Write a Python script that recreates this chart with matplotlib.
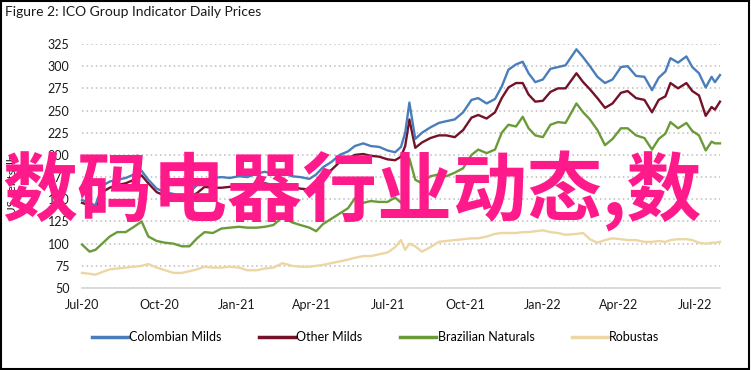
import matplotlib
matplotlib.use("Agg")
import matplotlib.pyplot as plt
import matplotlib.dates as mdates
import pandas as pd
from matplotlib.patches import Rectangle

# ---- data (US cents/lb) ----
dates = [
    "2020-07-01", "2020-07-10", "2020-07-17", "2020-07-25", "2020-08-03", "2020-08-12",
    "2020-08-22", "2020-09-01", "2020-09-10", "2020-09-18", "2020-09-28", "2020-10-08",
    "2020-10-18", "2020-10-28", "2020-11-06", "2020-11-15", "2020-11-24", "2020-12-04",
    "2020-12-14", "2020-12-24", "2021-01-04", "2021-01-14", "2021-01-25", "2021-02-04",
    "2021-02-14", "2021-02-25", "2021-03-08", "2021-03-18", "2021-03-29", "2021-04-06",
    "2021-04-14", "2021-04-24", "2021-05-04", "2021-05-14", "2021-05-22", "2021-06-01",
    "2021-06-10", "2021-06-20", "2021-06-30", "2021-07-09", "2021-07-16", "2021-07-21",
    "2021-07-26", "2021-08-02", "2021-08-10", "2021-08-20", "2021-08-30", "2021-09-08",
    "2021-09-18", "2021-09-28", "2021-10-08", "2021-10-16", "2021-10-26", "2021-11-05",
    "2021-11-13", "2021-11-21", "2021-11-30", "2021-12-08", "2021-12-15", "2021-12-23",
    "2022-01-01", "2022-01-10", "2022-01-19", "2022-01-28", "2022-02-10", "2022-02-18",
    "2022-02-26", "2022-03-07", "2022-03-16", "2022-03-25", "2022-04-04", "2022-04-12",
    "2022-04-22", "2022-05-02", "2022-05-11", "2022-05-19", "2022-05-27", "2022-06-02",
    "2022-06-11", "2022-06-21", "2022-06-28", "2022-07-06", "2022-07-14", "2022-07-21",
    "2022-07-25", "2022-07-31",
]

colombian = [
    149, 146, 143, 165, 170, 172, 174, 178, 182, 172, 162, 158,
    156, 152, 158, 166, 172, 174, 175, 174, 176, 175, 179, 181,
    178, 180, 176, 175, 173, 178, 186, 192, 200, 204, 210, 213,
    210, 209, 205, 203, 209, 225, 259, 218, 225, 231, 236, 238,
    240, 248, 262, 264, 258, 263, 277, 296, 302, 305, 292, 282,
    285, 297, 299, 301, 319, 310, 300, 288, 281, 285, 299, 300,
    289, 288, 273, 287, 294, 309, 304, 311, 299, 292, 276, 288,
    282, 290,
]

other_milds = [
    146, 143, 140, 158, 163, 166, 168, 172, 177, 168, 158, 154,
    152, 148, 152, 157, 164, 163, 163, 164, 165, 163, 167, 168,
    166, 168, 164, 162, 161, 166, 178, 183, 192, 196, 200, 201,
    199, 198, 195, 194, 198, 210, 240, 208, 214, 219, 222, 222,
    220, 228, 242, 245, 241, 248, 264, 276, 281, 281, 268, 260,
    261, 271, 275, 275, 292, 282, 274, 264, 253, 258, 270, 272,
    264, 262, 248, 262, 266, 281, 275, 281, 272, 267, 244, 254,
    251, 260,
]

brazilian = [
    99, 91, 93, 100, 108, 113, 113, 119, 125, 108, 103, 101,
    100, 97, 97, 106, 113, 112, 117, 118, 119, 118, 118, 119,
    121, 130, 124, 121, 118, 114, 122, 128, 134, 140, 151, 146,
    148, 147, 147, 152, 146, 160, 196, 172, 168, 176, 178, 176,
    180, 185, 200, 206, 202, 206, 225, 234, 232, 243, 230, 222,
    220, 234, 237, 236, 258, 248, 240, 228, 211, 218, 230, 230,
    222, 219, 206, 218, 224, 237, 230, 236, 227, 222, 205, 215,
    213, 213,
]

robustas = [
    67, 66, 65, 68, 71, 72, 73, 74, 75, 77, 73, 70,
    67, 67, 69, 71, 74, 73, 73, 74, 73, 70, 70, 72,
    73, 78, 75, 74, 74, 75, 76, 78, 80, 82, 84, 86,
    86, 88, 90, 96, 104, 93, 100, 97, 91, 96, 102, 103,
    104, 105, 106, 106, 108, 111, 112, 112, 112, 113, 113, 114,
    115, 113, 112, 110, 111, 112, 105, 101, 104, 106, 105, 104,
    104, 102, 102, 103, 102, 104, 105, 105, 104, 101, 100, 101,
    101, 102,
]

series_names = ["Colombian Milds", "Other Milds", "Brazilian Naturals", "Robustas"]
series_colors = ["#4A7EBB", "#731229", "#6A9B38", "#ECD7A4"]
y_ticks = [50, 75, 100, 125, 150, 175, 200, 225, 250, 275, 300, 325]

x = pd.to_datetime(dates)

fig = plt.figure(figsize=(7.51, 3.70), dpi=100)
ax = fig.add_axes([0.1092, 0.2216, 0.8495, 0.6595])

values = [colombian, other_milds, brazilian, robustas]
# robustas underneath, colombian on top
for vals, name, col, z in zip(values, series_names, series_colors, [5, 4, 3, 2]):
    ax.plot(x, vals, color=col, lw=1.7, label=name, zorder=z, clip_on=False)

ax.set_ylim(50, 325)
ax.set_yticks(y_ticks)
ax.set_xlim(pd.Timestamp("2020-07-01"), pd.Timestamp("2022-07-31"))
ax.xaxis.set_major_locator(mdates.MonthLocator(bymonth=[1, 4, 7, 10]))
ax.xaxis.set_major_formatter(mdates.DateFormatter("%b-%y"))

ax.yaxis.grid(True, linestyle=(0, (1, 2)), color="#BDBDBD", lw=1.1)
ax.set_axisbelow(True)
for s in ["top", "right", "left"]:
    ax.spines[s].set_visible(False)
ax.spines["bottom"].set_color("#D6D6D6")
ax.spines["bottom"].set_linewidth(1.2)
ax.spines["bottom"].set_zorder(1)
ax.tick_params(length=0, labelsize=9, colors="#1A1A1A")
ax.tick_params(axis="y", pad=9)
ax.tick_params(axis="x", pad=8)
for lab in ax.get_xticklabels() + ax.get_yticklabels():
    lab.set_family("Lato")

fig.text(0.016, 0.5, "US cents/lb", rotation=90, ha="center", va="center",
         fontsize=8.5, family="Lato", color="#1A1A1A")
fig.text(0.007, 0.967, "Figure 2: ICO Group Indicator Daily Prices", ha="left", va="center",
         fontsize=10, family="Lato", color="#1A1A1A")

leg = fig.legend(loc="center", bbox_to_anchor=(0.5, 0.088), ncol=4, frameon=False,
                 handlelength=2.9, handletextpad=0.1, columnspacing=3.0,
                 prop={"family": "Lato", "size": 9})
for h in leg.get_lines():
    h.set_linewidth(2.5)

# outer frame
fig.add_artist(Rectangle((0.001, 0.002), 0.996, 0.996, transform=fig.transFigure,
                         fill=False, edgecolor="black", lw=1.5))

# overlay text
fig.text(0.469, 0.485, "数码电器行业动态,数", ha="center", va="center", fontsize=54,
         family=["Noto Sans CJK SC", "DejaVu Sans"], weight="bold", color="#FF1A8C",
         zorder=20)

fig.savefig("out.png", dpi=100)
